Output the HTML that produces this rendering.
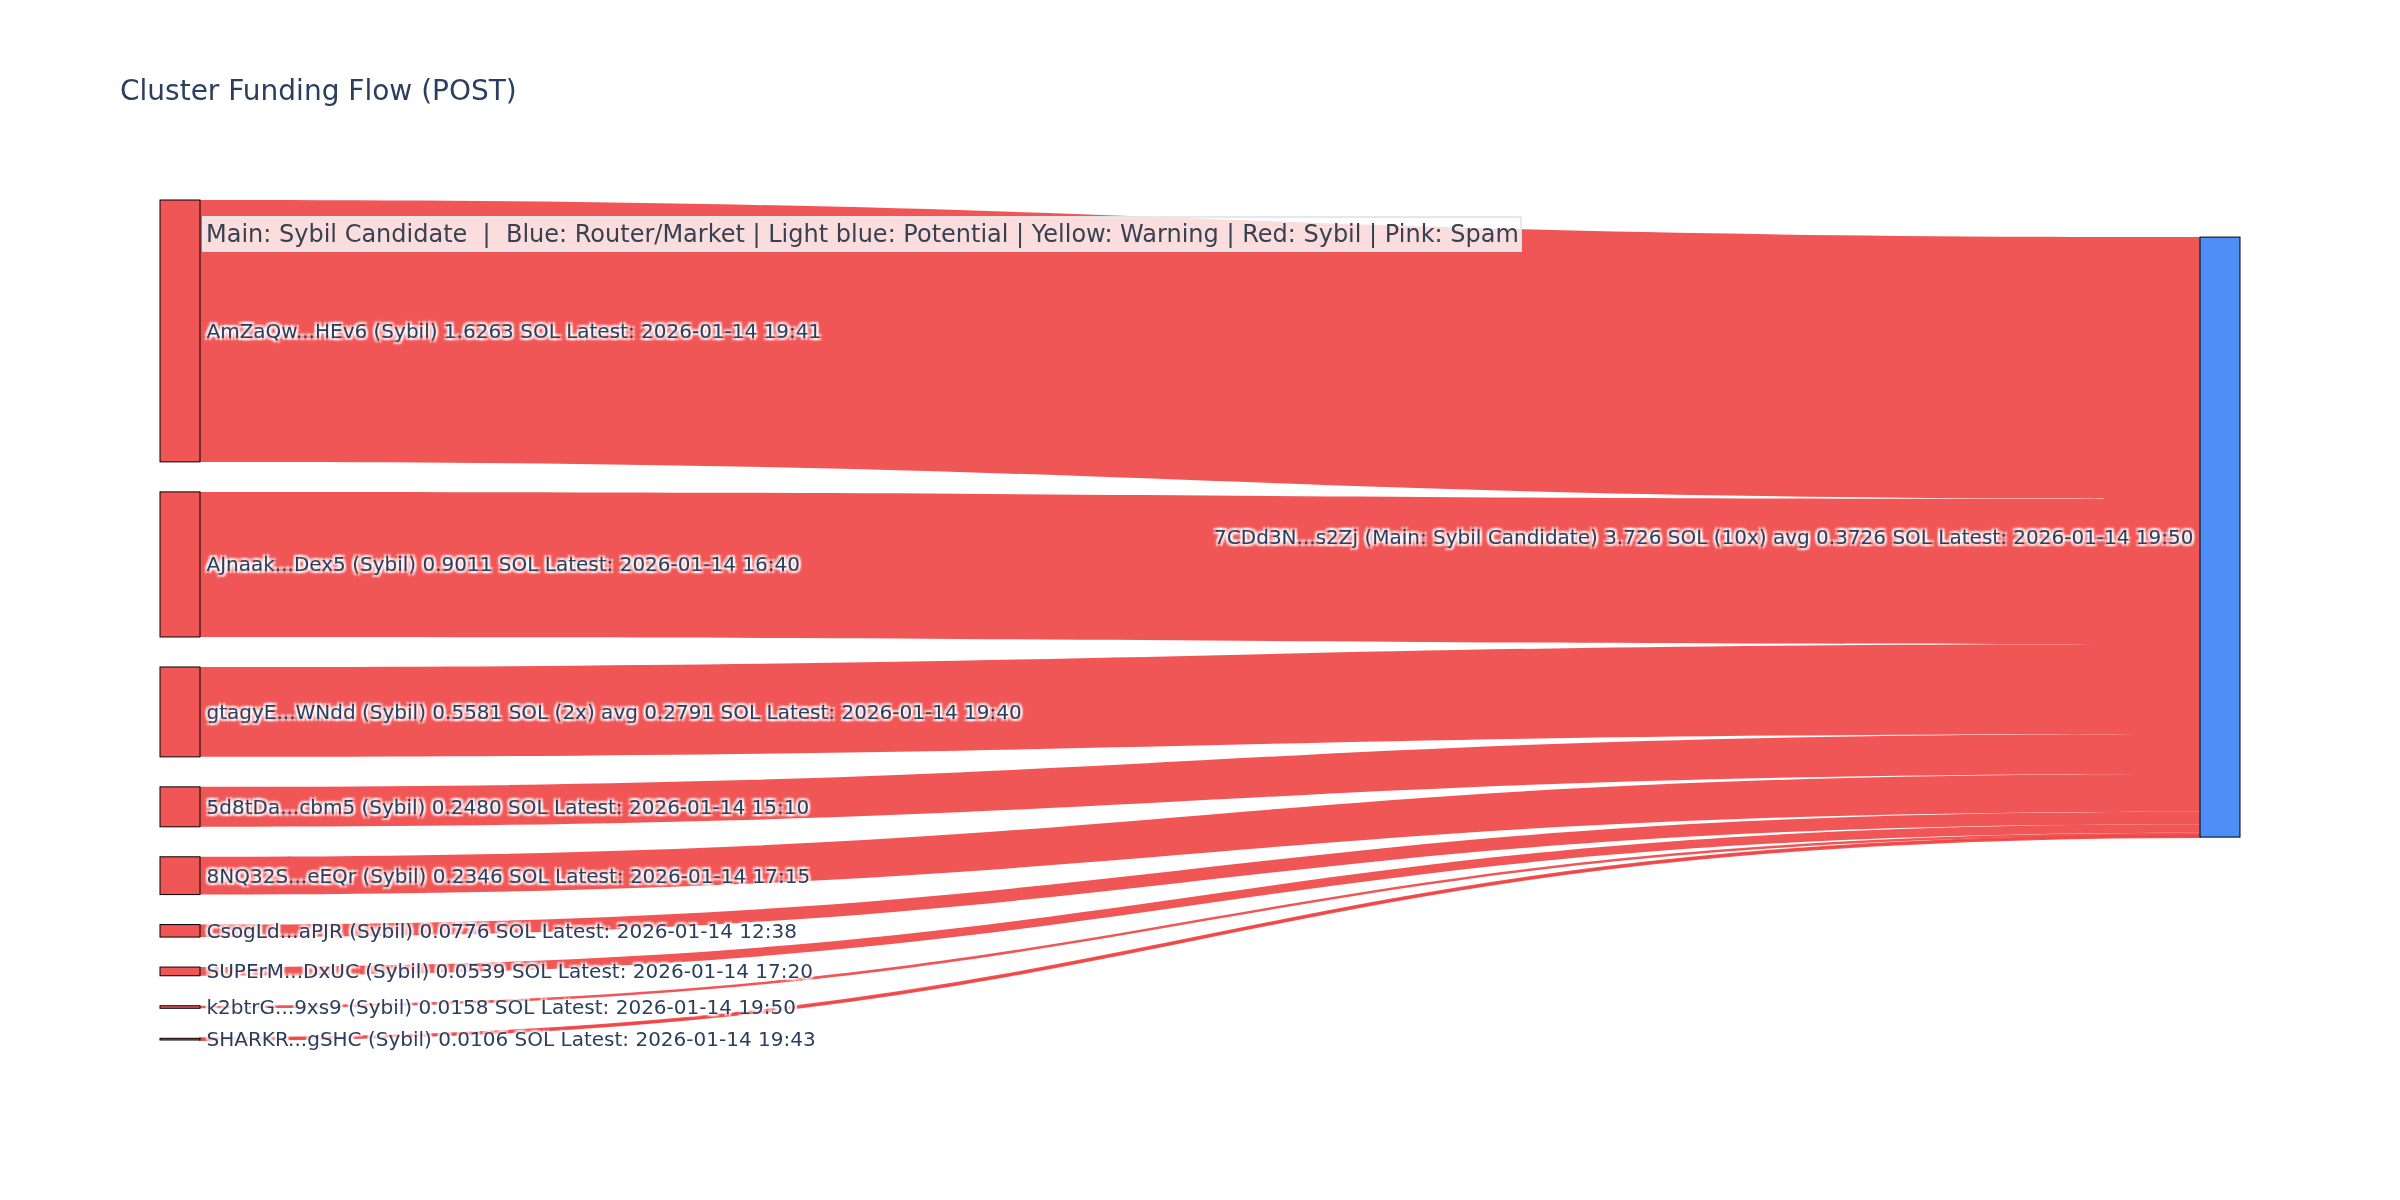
<!DOCTYPE html><html><head><meta charset="utf-8"><title>Cluster Funding Flow (POST)</title><style>
html,body{margin:0;padding:0;background:#fff;width:2400px;height:1200px;overflow:hidden}
svg{display:block;will-change:transform}
text{font-family:"DejaVu Sans","Liberation Sans",sans-serif;white-space:pre}
.lbl{font-size:20px;fill:#2a3f5f;text-shadow:2px 2px 2px #fff,-2px -2px 2px #fff,2px -2px 2px #fff,-2px 2px 2px #fff}
</style></head><body>
<svg width="2400" height="1200" viewBox="0 0 2400 1200">
<rect x="0" y="0" width="2400" height="1200" fill="#fff"/>
<g class="links">
<path d="M200.00,200.00C1200.00,200.00 1200.00,237.09 2200.00,237.09L2200.00,498.97C1200.00,498.97 1200.00,461.88 200.00,461.88Z" fill="rgba(239,68,68,0.9)"/>
<path d="M200.00,491.88C1200.00,491.88 1200.00,498.97 2200.00,498.97L2200.00,644.08C1200.00,644.08 1200.00,636.99 200.00,636.99Z" fill="rgba(239,68,68,0.9)"/>
<path d="M200.00,666.99C1200.00,666.99 1200.00,644.08 2200.00,644.08L2200.00,733.95C1200.00,733.95 1200.00,756.86 200.00,756.86Z" fill="rgba(239,68,68,0.9)"/>
<path d="M200.00,786.86C1200.00,786.86 1200.00,733.95 2200.00,733.95L2200.00,773.88C1200.00,773.88 1200.00,826.80 200.00,826.80Z" fill="rgba(239,68,68,0.9)"/>
<path d="M200.00,856.80C1200.00,856.80 1200.00,773.88 2200.00,773.88L2200.00,811.66C1200.00,811.66 1200.00,894.57 200.00,894.57Z" fill="rgba(239,68,68,0.9)"/>
<path d="M200.00,924.57C1200.00,924.57 1200.00,811.66 2200.00,811.66L2200.00,824.16C1200.00,824.16 1200.00,937.07 200.00,937.07Z" fill="rgba(239,68,68,0.9)"/>
<path d="M200.00,967.07C1200.00,967.07 1200.00,824.16 2200.00,824.16L2200.00,832.84C1200.00,832.84 1200.00,975.75 200.00,975.75Z" fill="rgba(239,68,68,0.9)"/>
<path d="M200.00,1005.75C1200.00,1005.75 1200.00,832.84 2200.00,832.84L2200.00,835.38C1200.00,835.38 1200.00,1008.29 200.00,1008.29Z" fill="rgba(239,68,68,0.9)"/>
<path d="M200.00,1038.29C1200.00,1038.29 1200.00,835.38 2200.00,835.38L2200.00,837.09C1200.00,837.09 1200.00,1040.00 200.00,1040.00Z" fill="rgba(239,68,68,0.9)" stroke="rgb(239,68,68)" stroke-opacity="0.9" stroke-width="2"/>
<rect x="2104" y="498" width="95" height="1" fill="rgb(241,86,86)"/>
</g><g class="nodes">
<rect x="160.0" y="200.00" width="40.0" height="261.88" fill="rgba(239,68,68,0.9)" stroke="#000" stroke-width="1"/>
<rect x="160.0" y="491.88" width="40.0" height="145.10" fill="rgba(239,68,68,0.9)" stroke="#000" stroke-width="1"/>
<rect x="160.0" y="666.99" width="40.0" height="89.87" fill="rgba(239,68,68,0.9)" stroke="#000" stroke-width="1"/>
<rect x="160.0" y="786.86" width="40.0" height="39.94" fill="rgba(239,68,68,0.9)" stroke="#000" stroke-width="1"/>
<rect x="160.0" y="856.80" width="40.0" height="37.78" fill="rgba(239,68,68,0.9)" stroke="#000" stroke-width="1"/>
<rect x="160.0" y="924.57" width="40.0" height="12.50" fill="rgba(239,68,68,0.9)" stroke="#000" stroke-width="1"/>
<rect x="160.0" y="967.07" width="40.0" height="8.68" fill="rgba(239,68,68,0.9)" stroke="#000" stroke-width="1"/>
<rect x="160.0" y="1005.75" width="40.0" height="2.54" fill="rgba(239,68,68,0.9)" stroke="#000" stroke-width="1"/>
<rect x="160.0" y="1038.29" width="40.0" height="1.71" fill="rgba(239,68,68,0.9)" stroke="#000" stroke-width="1"/>
<rect x="2200.0" y="237.09" width="40.0" height="600.00" fill="rgba(59,130,246,0.9)" stroke="#000" stroke-width="1"/>
</g><g class="labels">
<text class="lbl" x="206.5" y="337.94">AmZaQw...HEv6 (Sybil) 1.6263 SOL Latest: 2026-01-14 19:41</text>
<text class="lbl" x="206.5" y="571.44">AJnaak...Dex5 (Sybil) 0.9011 SOL Latest: 2026-01-14 16:40</text>
<text class="lbl" x="206.5" y="718.92">gtagyE...WNdd (Sybil) 0.5581 SOL (2x) avg 0.2791 SOL Latest: 2026-01-14 19:40</text>
<text class="lbl" x="206.5" y="813.83">5d8tDa...cbm5 (Sybil) 0.2480 SOL Latest: 2026-01-14 15:10</text>
<text class="lbl" x="206.5" y="882.68">8NQ32S...eEQr (Sybil) 0.2346 SOL Latest: 2026-01-14 17:15</text>
<text class="lbl" x="206.5" y="937.82">CsogLd...aPJR (Sybil) 0.0776 SOL Latest: 2026-01-14 12:38</text>
<text class="lbl" x="206.5" y="978.41">SUPErM...DxUC (Sybil) 0.0539 SOL Latest: 2026-01-14 17:20</text>
<text class="lbl" x="206.5" y="1014.02">k2btrG...9xs9 (Sybil) 0.0158 SOL Latest: 2026-01-14 19:50</text>
<text class="lbl" x="206.5" y="1046.15">SHARKR...gSHC (Sybil) 0.0106 SOL Latest: 2026-01-14 19:43</text>
<text class="lbl" x="2193.5" y="544.09" text-anchor="end">7CDd3N...s2Zj (Main: Sybil Candidate) 3.726 SOL (10x) avg 0.3726 SOL Latest: 2026-01-14 19:50</text>
</g>
<text x="120" y="99.8" style="font-size:28px;fill:#2a3f5f">Cluster Funding Flow (POST)</text>
<rect x="203" y="217.07" width="1317.9" height="33.8" fill="rgba(255,255,255,0.8)" stroke="#e2e8f0" stroke-width="2"/>
<text x="206" y="242" style="font-size:24px;fill:#374151">Main: Sybil Candidate  |  Blue: Router/Market | Light blue: Potential | Yellow: Warning | Red: Sybil | Pink: Spam</text>
</svg></body></html>
